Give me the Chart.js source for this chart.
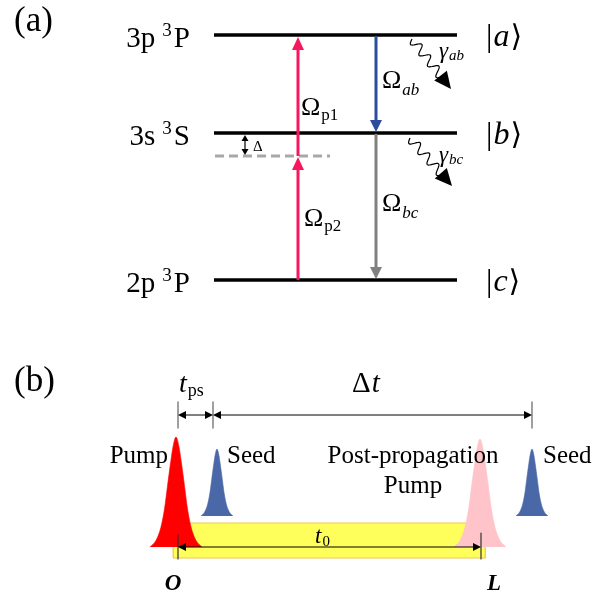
<!DOCTYPE html>
<html>
<head>
<meta charset="utf-8">
<script src="https://cdn.jsdelivr.net/npm/chart.js@4.4.1/dist/chart.umd.min.js"></script>
<style>
  html, body { margin: 0; padding: 0; background: #fff; }
  canvas { display: block; }
</style>
</head>
<body>
<canvas id="scheme" width="604" height="592"></canvas>
<script>
// ---------- (a) three-level scheme ----------
const levelConfig = ['3p', '3s', '2p'];       // electron configuration
const levelTerm   = ['P', 'S', 'P'];          // term letter, triplet (³)
const levelKets   = ['a', 'b', 'c'];
const levelY      = [35, 133, 280];           // |a>, |b>, |c>
const detunedY    = 156;                      // two-photon level, Δ below |b>
const pumpSteps   = [[280, 156], [156, 35]];  // Ω_p2 then Ω_p1
const emitSteps   = [[35, 133], [133, 280]];  // Ω_ab then Ω_bc
const decayFrom   = [[412, 39], [410, 138]];  // γ_ab, γ_bc start
const decayTo     = [[451, 89], [452, 186]];  // γ_ab, γ_bc tip

// ---------- (b) pulse timing ----------
const pulseNames = ['Pump', 'Seed', 'Post-propagation pump', 'Seed'];
const pulseTime  = [176, 217, 480, 532];
const pulseAmp   = [110, 67, 108, 67];
const pulseFoot  = [547, 516, 547, 516];
const pulseHalf  = [26, 16, 26, 16];
// envelope: fraction of half width vs fraction of peak
const envelopeX  = [0, 0.1, 0.2, 0.33, 0.44, 0.58, 0.77, 1];
const envelopeY  = [1, 0.93, 0.78, 0.55, 0.35, 0.18, 0.06, 0];
const markTimes  = [178, 213, 532];           // O+t_ps, seed, Δt end
const mediumEnds = [178, 481];                // O and L

// ---------- layout & styles ----------
const layout = {
  levelFrom: 214, levelTo: 457, detFrom: 215, detTo: 330,
  pumpX: 298, emitX: 376, deltaX: 245,
  markTop: 402, markBottom: 428, spanY: 415,
  mediumY: 547, barTop: 523, barBottom: 558
};
const colors = {
  level: '#000', detuned: '#a8a8a8', pump: '#f7175f', ab: '#2c4c9c', bc: '#808080',
  pulses: ['#ff0000', '#4a68a8', '#ffc4c9', '#4a68a8'],
  bar: '#ffff5c', barEdge: '#f0c84a', tick: '#6e6e6e'
};
const serif = '"Liberation Serif","DejaVu Serif",serif';

const datasets = [];
function seg(points, opt) {
  datasets.push(Object.assign({
    data: points.map(p => ({x: p[0], y: p[1]})),
    borderColor: '#000', borderWidth: 1, pointRadius: 0, fill: false,
    tension: 0, borderCapStyle: 'butt'
  }, opt || {}));
}

// yellow gain medium
const barOutline = [[173,558],[173.2,548],[174.3,533],[176.5,524.5],[179,523],
  [482,523],[484.3,524.5],[485.3,533],[485.5,548],[485,558]];
seg(barOutline, {borderWidth: 0, borderColor: 'rgba(0,0,0,0)',
  backgroundColor: colors.bar, fill: {value: layout.barBottom}});
seg(barOutline.concat([[173,558]]), {borderColor: colors.barEdge, borderWidth: 1.2});

// pulses
pulseTime.forEach((t, k) => {
  const pts = [];
  for (let i = envelopeX.length - 1; i >= 0; i--)
    pts.push([t - pulseHalf[k] * envelopeX[i], pulseFoot[k] - pulseAmp[k] * envelopeY[i]]);
  for (let i = 1; i < envelopeX.length; i++)
    pts.push([t + pulseHalf[k] * envelopeX[i], pulseFoot[k] - pulseAmp[k] * envelopeY[i]]);
  seg(pts, {borderColor: colors.pulses[k], borderWidth: 0.6, backgroundColor: colors.pulses[k],
    fill: {value: pulseFoot[k]}, cubicInterpolationMode: 'monotone'});
});

// energy levels
levelY.forEach(y => seg([[layout.levelFrom, y], [layout.levelTo, y]], {borderWidth: 3.6}));
seg([[layout.detFrom, detunedY], [layout.detTo, detunedY]],
  {borderColor: colors.detuned, borderWidth: 3, borderDash: [9, 5]});

// arrow shafts (heads added by the plugin below)
const arrows = [];
function arrow(x1, y1, x2, y2, color, width, len, half, both) {
  arrows.push({x1, y1, x2, y2, color, len, half, both});
  const a = Math.atan2(y2 - y1, x2 - x1);
  const sx = both ? x1 + Math.cos(a) * len * 0.6 : x1, sy = both ? y1 + Math.sin(a) * len * 0.6 : y1;
  seg([[sx, sy], [x2 - Math.cos(a) * len * 0.6, y2 - Math.sin(a) * len * 0.6]],
    {borderColor: color, borderWidth: width});
}
arrow(layout.pumpX, pumpSteps[0][0], layout.pumpX, pumpSteps[0][1] + 1, colors.pump, 3, 13, 6);
arrow(layout.pumpX, pumpSteps[1][0], layout.pumpX, pumpSteps[1][1] + 2, colors.pump, 3, 13, 6);
arrow(layout.emitX, emitSteps[0][0] + 2, layout.emitX, emitSteps[0][1] - 1, colors.ab, 3, 12, 6);
arrow(layout.emitX, emitSteps[1][0] + 2, layout.emitX, emitSteps[1][1] - 1, colors.bc, 3, 12, 6);
arrow(layout.deltaX, levelY[1] + 2, layout.deltaX, detunedY - 1, '#000', 1.2, 6, 3.5, true);

// timing markers
markTimes.forEach(t => seg([[t, layout.markTop], [t, layout.markBottom]], {borderColor: colors.tick, borderWidth: 1.3}));
seg([[mediumEnds[0], 535], [mediumEnds[0], 559]], {borderColor: '#333', borderWidth: 1.2});
seg([[mediumEnds[1], 533], [mediumEnds[1], 559]], {borderColor: '#333', borderWidth: 1.2});
arrow(markTimes[0], layout.spanY, markTimes[1], layout.spanY, '#000', 1, 8, 4, true);
arrow(markTimes[1], layout.spanY, markTimes[2], layout.spanY, '#000', 1, 8, 4, true);
arrow(mediumEnds[0], layout.mediumY, mediumEnds[1], layout.mediumY, '#000', 1, 8, 4, true);

datasets.forEach((d, i) => { d.order = datasets.length - i; });

function headAt(ctx, x1, y1, x2, y2, len, half, color) {
  const a = Math.atan2(y2 - y1, x2 - x1), c = Math.cos(a), s = Math.sin(a);
  ctx.fillStyle = color;
  ctx.beginPath();
  ctx.moveTo(x2, y2);
  ctx.lineTo(x2 - len * c + half * s, y2 - len * s - half * c);
  ctx.lineTo(x2 - len * c - half * s, y2 - len * s + half * c);
  ctx.closePath();
  ctx.fill();
}

function setFont(ctx, size, style) {
  ctx.font = (style ? style + ' ' : '') + size + 'px ' + serif;
}
function text(ctx, str, x, y, size, opts) {
  opts = opts || {};
  setFont(ctx, size, opts.style);
  ctx.textAlign = opts.align || 'left';
  ctx.textBaseline = 'alphabetic';
  ctx.fillStyle = opts.color || '#000';
  ctx.fillText(str, x, y);
  return ctx.measureText(str).width;
}

// symbol with subscript, e.g. Ω_ab
function sub(ctx, main, subStr, x, y, size, mainStyle, subStyle, drop, subSize) {
  const w = text(ctx, main, x, y, size, {style: mainStyle});
  return w + text(ctx, subStr, x + w + 1, y + drop, subSize || Math.round(size * 0.66), {style: subStyle});
}

// term symbol such as "3p ³P", right aligned at xr
function term(ctx, conf, letter, xr, y) {
  setFont(ctx, 29); const w1 = ctx.measureText(conf).width, w3 = ctx.measureText(letter).width;
  setFont(ctx, 19); const w2 = ctx.measureText('3').width;
  const gap1 = 7, gap2 = 2;
  let x = xr - (w1 + gap1 + w2 + gap2 + w3);
  text(ctx, conf, x, y, 29); x += w1 + gap1;
  text(ctx, '3', x, y - 11, 19); x += w2 + gap2;
  text(ctx, letter, x, y, 29);
}

const decor = {
  id: 'decor',
  afterDatasetsDraw(chart) {
    const ctx = chart.ctx, X = v => chart.scales.x.getPixelForValue(v), Y = v => chart.scales.y.getPixelForValue(v);
    ctx.save();
    // arrow heads
    arrows.forEach(a => {
      headAt(ctx, X(a.x1), Y(a.y1), X(a.x2), Y(a.y2), a.len, a.half, a.color);
      if (a.both) headAt(ctx, X(a.x2), Y(a.y2), X(a.x1), Y(a.y1), a.len, a.half, a.color);
    });
    // spontaneous decay: wavy line ending in a filled head
    decayFrom.forEach((p, k) => {
      const x1 = X(p[0]), y1 = Y(p[1]), x2 = X(decayTo[k][0]), y2 = Y(decayTo[k][1]);
      const L = Math.hypot(x2 - x1, y2 - y1), ux = (x2 - x1) / L, uy = (y2 - y1) / L;
      const waveLen = L - 15;
      ctx.strokeStyle = '#000'; ctx.lineWidth = 1.2;
      ctx.beginPath();
      for (let d = 0; d <= waveLen; d += 0.5) {
        const off = 4.5 * Math.sin(d / waveLen * Math.PI * 2 * 3.5);
        const xx = x1 + ux * d - uy * off, yy = y1 + uy * d + ux * off;
        if (d === 0) ctx.moveTo(xx, yy); else ctx.lineTo(xx, yy);
      }
      ctx.stroke();
      headAt(ctx, x1, y1, x2, y2, 17, 8, '#000');
    });

    // (a) labels
    text(ctx, '(a)', X(14), Y(31), 35);
    levelConfig.forEach((c, i) => term(ctx, c, levelTerm[i], X(190), Y(levelY[i] + 12)));
    levelKets.forEach((k, i) => {
      const x = X(486), y = Y(levelY[i] + 11);
      let w = text(ctx, '|', x, y, 32);
      w += text(ctx, k, x + w + 1, y, 32, {style: 'italic'});
      text(ctx, '\u27E9', x + w + 2, y, 30);
    });
    text(ctx, '\u0394', X(253), Y(151), 15);
    sub(ctx, '\u03A9', 'p1', X(301), Y(115), 26, '', '', 5);
    sub(ctx, '\u03A9', 'p2', X(304), Y(226), 26, '', '', 5);
    sub(ctx, '\u03A9', 'ab', X(382), Y(88), 26, '', 'italic', 7);
    sub(ctx, '\u03A9', 'bc', X(382), Y(211), 26, '', 'italic', 7);
    sub(ctx, '\u03B3', 'ab', X(439), Y(58), 23, 'italic', 'italic', 2, 15);
    sub(ctx, '\u03B3', 'bc', X(439), Y(162), 23, 'italic', 'italic', 2, 15);

    // (b) labels
    text(ctx, '(b)', X(14), Y(391), 35);
    sub(ctx, 't', 'ps', X(179), Y(392), 28, 'italic', '', 4, 18);
    const w = text(ctx, '\u0394', X(352), Y(392), 29);
    text(ctx, 't', X(352) + w + 1, Y(392), 29, {style: 'italic'});
    text(ctx, pulseNames[0], X(168), Y(463), 25, {align: 'right'});
    text(ctx, pulseNames[1], X(227), Y(463), 25);
    text(ctx, 'Post-propagation', X(413), Y(463), 25, {align: 'center'});
    text(ctx, 'Pump', X(413), Y(493), 25, {align: 'center'});
    text(ctx, pulseNames[3], X(543), Y(463), 25);
    sub(ctx, 't', '0', X(315), Y(543), 23, 'italic', '', 3);
    text(ctx, 'O', X(173), Y(590), 23, {style: 'italic bold', align: 'center'});
    text(ctx, 'L', X(494), Y(590), 23, {style: 'italic bold', align: 'center'});
    ctx.restore();
  }
};

new Chart(document.getElementById('scheme'), {
  type: 'line',
  data: {datasets},
  options: {
    responsive: false,
    animation: false,
    events: [],
    layout: {padding: 0},
    scales: {
      x: {type: 'linear', min: 0, max: 604, display: false},
      y: {type: 'linear', min: 0, max: 592, reverse: true, display: false}
    },
    plugins: {legend: {display: false}, tooltip: {enabled: false}},
    elements: {line: {borderJoinStyle: 'round'}}
  },
  plugins: [decor]
});
</script>
</body>
</html>
